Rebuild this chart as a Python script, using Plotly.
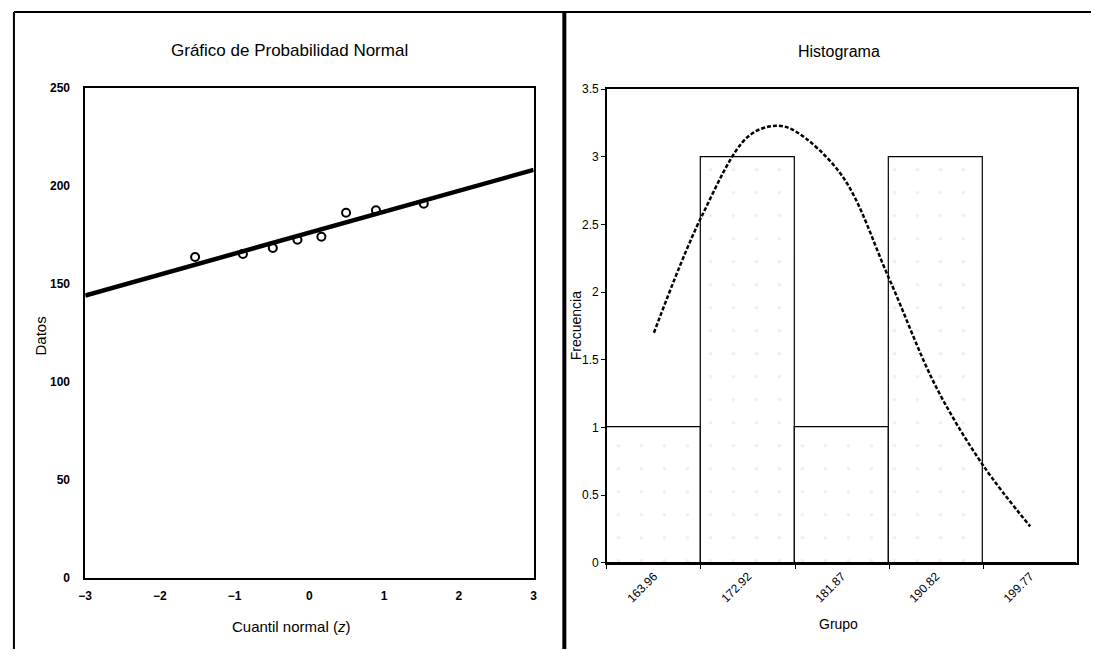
import plotly.graph_objects as go

W, H = 1095, 656

# ---- Left panel data: normal probability plot ----
z_quantiles = [-1.53, -0.89, -0.49, -0.16, 0.16, 0.49, 0.89, 1.53]
datos = [163.8, 165.3, 168.4, 172.6, 174.1, 186.4, 187.7, 191.0]
line_z = [-3, 3]
line_y = [144.1, 208.3]

# ---- Right panel data: histogram ----
grupos = ["163.96", "172.92", "181.87", "190.82", "199.77"]
frecuencia = [1, 3, 1, 3, 0]
curva_x = [163.96, 168.44, 172.92, 175.60, 177.40, 181.87, 186.35, 190.82, 195.30, 199.77]
curva_y = [1.70, 2.55, 3.15, 3.23, 3.19, 2.86, 2.10, 1.30, 0.72, 0.27]
ancho_clase = 8.95

y_ticks_left = [0, 50, 100, 150, 200, 250]
x_ticks_left = [-3, -2, -1, 0, 1, 2, 3]
y_ticks_right = [0, 0.5, 1, 1.5, 2, 2.5, 3, 3.5]

def px_x(p):
    return p / W

def px_y(p):
    return 1 - p / H

fig = go.Figure()

fig.add_trace(go.Scatter(
    x=line_z, y=line_y, mode="lines",
    line=dict(color="black", width=4.5),
    xaxis="x", yaxis="y", showlegend=False, hoverinfo="skip"))
fig.add_trace(go.Scatter(
    x=z_quantiles, y=datos, mode="markers",
    marker=dict(symbol="circle-open", size=8, color="black", line=dict(width=2)),
    xaxis="x", yaxis="y", showlegend=False))

fig.add_trace(go.Bar(
    x=grupos, y=frecuencia,
    marker=dict(color="white", line=dict(color="black", width=1.2),
                pattern=dict(shape=".", fgcolor="#dddddd", bgcolor="white",
                             size=23, solidity=0.02)),
    xaxis="x2", yaxis="y2", showlegend=False))
fig.add_trace(go.Scatter(
    x=curva_x, y=curva_y, mode="lines",
    line=dict(color="black", width=2.5, dash="4px,2px", shape="spline", smoothing=1.0),
    xaxis="x3", yaxis="y2", showlegend=False))

first = float(grupos[0]) - ancho_clase / 2
last = float(grupos[-1]) + ancho_clase / 2

axis_font_bold = dict(family="Liberation Sans, Arial, sans-serif", size=12, color="black", weight="bold")
narrow_font = dict(family="Liberation Sans Narrow, Arial Narrow, Liberation Sans, Arial, sans-serif",
                   size=12, color="black")

fig.update_layout(
    width=W, height=H, autosize=False,
    margin=dict(l=0, r=0, t=0, b=0),
    paper_bgcolor="white", plot_bgcolor="white",
    bargap=0,
    xaxis=dict(domain=[px_x(79), px_x(532)], range=[-3, 3],
               tickvals=x_ticks_left, ticks="", showgrid=False, zeroline=False,
               showline=True, linecolor="black", linewidth=1.5, mirror=True,
               tickfont=axis_font_bold, ticklabelstandoff=6, anchor="y"),
    yaxis=dict(domain=[px_y(583), px_y(83)], range=[0, 250],
               tickvals=y_ticks_left, ticks="", showgrid=False, zeroline=False,
               showline=True, linecolor="black", linewidth=1.5, mirror=True,
               tickfont=axis_font_bold, ticklabelstandoff=11, anchor="x"),
    xaxis2=dict(domain=[px_x(606), px_x(1081)], type="category",
                range=[-0.5, 4.5], tickson="boundaries", ticks="outside", ticklen=4,
                tickcolor="black", tickangle=-45, showgrid=False, zeroline=False,
                showline=True, linecolor="black", linewidth=1.5, mirror=True,
                tickfont=dict(narrow_font, size=12), anchor="y2"),
    xaxis3=dict(domain=[px_x(606), px_x(1081)], range=[first, last],
                overlaying="x2", visible=False, anchor="y2"),
    yaxis2=dict(domain=[px_y(568), px_y(84)], range=[0, 3.5],
                tickvals=y_ticks_right, ticks="outside", ticklen=4, tickcolor="black",
                showgrid=False, zeroline=False,
                showline=True, linecolor="black", linewidth=1.5, mirror=True,
                tickfont=dict(narrow_font, size=12), anchor="x2"),
)

ann = [
    dict(text="Gráfico de Probabilidad Normal", x=px_x(285), y=px_y(44),
         font=dict(family="Liberation Sans, Arial, sans-serif", size=17, color="black")),
    dict(text="Datos", x=px_x(34), y=px_y(336), textangle=-90,
         font=dict(family="Liberation Sans, Arial, sans-serif", size=15, color="black")),
    dict(text="Cuantil normal (<i>z</i>)", x=px_x(287), y=px_y(633),
         font=dict(family="Liberation Sans, Arial, sans-serif", size=15, color="black")),
    dict(text="Histograma", x=px_x(840), y=px_y(45),
         font=dict(narrow_font, size=16)),
    dict(text="Frecuencia", x=px_x(575), y=px_y(326), textangle=-90,
         font=dict(narrow_font, size=14)),
    dict(text="Grupo", x=px_x(840), y=px_y(630),
         font=dict(narrow_font, size=14)),
]
fig.update_layout(annotations=[dict(a, xref="paper", yref="paper", showarrow=False,
                                    xanchor="center", yanchor="middle") for a in ann])

shapes = [
    dict(type="line", x0=px_x(7), x1=1, y0=px_y(5), y1=px_y(5), line=dict(color="black", width=2)),
    dict(type="line", x0=px_x(7), x1=px_x(7), y0=px_y(5), y1=0, line=dict(color="black", width=2)),
    dict(type="line", x0=px_x(563), x1=px_x(563), y0=px_y(5), y1=0, line=dict(color="black", width=4)),
]
fig.update_layout(shapes=[dict(s, xref="paper", yref="paper", layer="above") for s in shapes])

fig.write_html(
    "out.html",
    config={"displayModeBar": False},
    post_script=("document.documentElement.style.margin='0';"
                 "document.documentElement.style.overflow='hidden';"
                 "document.body.style.margin='0';"
                 "document.body.style.overflow='hidden';"),
)
